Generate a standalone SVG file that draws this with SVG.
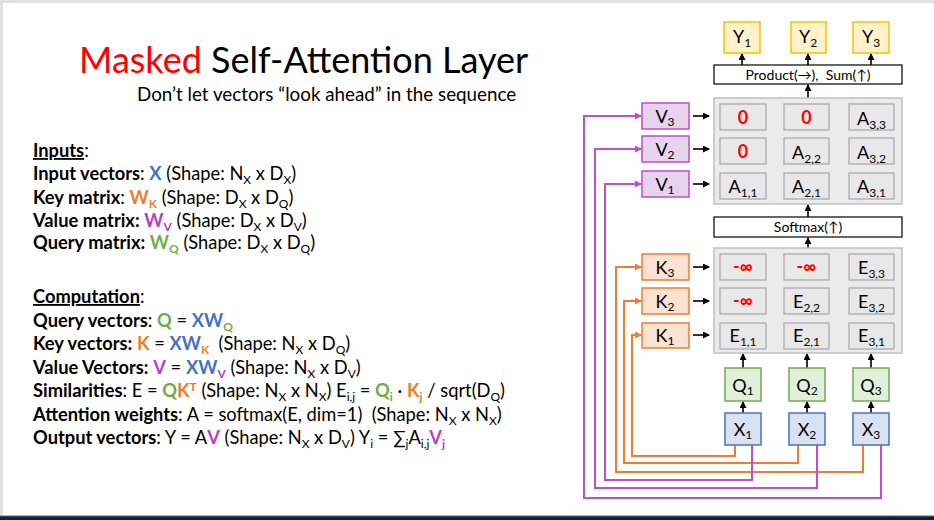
<svg xmlns="http://www.w3.org/2000/svg" width="934" height="520" viewBox="0 0 934 520">
<style>
.f{font-family:Lato,"Open Sans","DejaVu Sans",sans-serif}
.t{font-family:Lato,"Open Sans","DejaVu Sans",sans-serif;font-size:18.3px;fill:#000}
.b{font-weight:bold}
.s{font-size:12px}
.lbl{font-family:Lato,"Open Sans","DejaVu Sans",sans-serif;font-size:18px;fill:#000;text-anchor:middle}
.sub{font-size:12px}
.cell{fill:#e8e8e8;stroke:#a6a6a6;stroke-width:1.2}
.mat{fill:#ebebeb;stroke:#c0c0c0;stroke-width:1.5}
.yb{fill:#fff2cc;stroke:#ffc000;stroke-width:1.5}
.vb{fill:#e6d3ee;stroke:#c04ec8;stroke-width:1.5}
.kb{fill:#fbe2d2;stroke:#ed7d31;stroke-width:1.5}
.qb{fill:#e2efd9;stroke:#70ad47;stroke-width:1.5}
.xb{fill:#d9e1f3;stroke:#4472c4;stroke-width:1.5}
.wb{fill:#fff;stroke:#000;stroke-width:1.2}
.ar{stroke:#000;stroke-width:1.6;fill:none;marker-end:url(#ah)}
.oc{stroke:#ed7d31;stroke-width:2;fill:none;marker-end:url(#ao)}
.pc{stroke:#c04ec8;stroke-width:2;fill:none;marker-end:url(#ap)}
.blue{fill:#4472c4}
.org{fill:#ed7d31}
.pur{fill:#b541c9}
.grn{fill:#70ad47}
.red{fill:#ff0000}
</style>
<defs>
<marker id="ah" markerUnits="userSpaceOnUse" markerWidth="7" markerHeight="7" refX="6" refY="3.5" orient="auto"><path d="M0,0 L7,3.5 L0,7 z" fill="#000"/></marker>
<marker id="ao" markerUnits="userSpaceOnUse" markerWidth="7" markerHeight="7" refX="6" refY="3.5" orient="auto"><path d="M0,0 L7,3.5 L0,7 z" fill="#ed7d31"/></marker>
<marker id="ap" markerUnits="userSpaceOnUse" markerWidth="7" markerHeight="7" refX="6" refY="3.5" orient="auto"><path d="M0,0 L7,3.5 L0,7 z" fill="#c04ec8"/></marker>
</defs>
<rect x="0" y="0" width="934" height="520" fill="#fff"/>
<rect x="0" y="0" width="934" height="3" fill="#e2e2e6"/>
<rect x="0" y="0" width="3" height="520" fill="#e2e2e6"/>
<rect x="0" y="516" width="934" height="4" fill="#0b2340"/>
<rect x="0" y="515.5" width="934" height="1" fill="#4d6c92"/>

<g id="title">
<text class="f" x="79" y="73" font-size="36"><tspan class="red">Masked</tspan> Self-Attention Layer</text>
<text class="f" x="137" y="101" font-size="18.8">Don’t let vectors “look ahead” in the sequence</text>
</g>

<g id="inputs-text">
<text class="t" x="33" y="157"><tspan class="b" text-decoration="underline">Inputs</tspan>:</text>
<text class="t" x="33" y="180"><tspan class="b">Input vectors</tspan>: <tspan class="b blue">X</tspan> (Shape: N<tspan class="s" dy="4">X</tspan><tspan dy="-4"> x D</tspan><tspan class="s" dy="4">X</tspan><tspan dy="-4">)</tspan></text>
<text class="t" x="33" y="204"><tspan class="b">Key matrix</tspan>: <tspan class="b org">W</tspan><tspan class="b org s" dy="4">K</tspan><tspan dy="-4"> (Shape: D</tspan><tspan class="s" dy="4">X</tspan><tspan dy="-4"> x D</tspan><tspan class="s" dy="4">Q</tspan><tspan dy="-4">)</tspan></text>
<text class="t" x="33" y="227"><tspan class="b">Value matrix:</tspan> <tspan class="b pur">W</tspan><tspan class="b pur s" dy="4">V</tspan><tspan dy="-4"> (Shape: D</tspan><tspan class="s" dy="4">X</tspan><tspan dy="-4"> x D</tspan><tspan class="s" dy="4">V</tspan><tspan dy="-4">)</tspan></text>
<text class="t" x="33" y="249"><tspan class="b">Query matrix:</tspan> <tspan class="b grn">W</tspan><tspan class="b grn s" dy="4">Q</tspan><tspan dy="-4"> (Shape: D</tspan><tspan class="s" dy="4">X</tspan><tspan dy="-4"> x D</tspan><tspan class="s" dy="4">Q</tspan><tspan dy="-4">)</tspan></text>
</g>

<g id="computation-text">
<text class="t" x="33" y="303"><tspan class="b" text-decoration="underline">Computation</tspan>:</text>
<text class="t" x="33" y="327"><tspan class="b">Query vectors</tspan>: <tspan class="b grn">Q</tspan> = <tspan class="b blue">XW</tspan><tspan class="b grn s" dy="4">Q</tspan></text>
<text class="t" x="33" y="350"><tspan class="b">Key vectors:</tspan> <tspan class="b org">K</tspan> = <tspan class="b blue">XW</tspan><tspan class="b org s" dy="4">K</tspan><tspan dy="-4" xml:space="preserve">  (Shape: N</tspan><tspan class="s" dy="4">X</tspan><tspan dy="-4"> x D</tspan><tspan class="s" dy="4">Q</tspan><tspan dy="-4">)</tspan></text>
<text class="t" x="33" y="374"><tspan class="b">Value Vectors:</tspan> <tspan class="b pur">V</tspan> = <tspan class="b blue">XW</tspan><tspan class="b pur s" dy="4">V</tspan><tspan dy="-4"> (Shape: N</tspan><tspan class="s" dy="4">X</tspan><tspan dy="-4"> x D</tspan><tspan class="s" dy="4">V</tspan><tspan dy="-4">)</tspan></text>
<text class="t" x="33" y="397"><tspan class="b">Similarities</tspan>: E = <tspan class="b grn">Q</tspan><tspan class="b org">K</tspan><tspan class="b org s" dy="-6">T</tspan><tspan dy="6"> (Shape: N</tspan><tspan class="s" dy="4">X</tspan><tspan dy="-4"> x N</tspan><tspan class="s" dy="4">X</tspan><tspan dy="-4">) E</tspan><tspan class="s" dy="4">i,j</tspan><tspan dy="-4"> = </tspan><tspan class="b grn">Q</tspan><tspan class="b grn s" dy="4">i</tspan><tspan dy="-4"> · </tspan><tspan class="b org">K</tspan><tspan class="b org s" dy="4">j</tspan><tspan dy="-4"> / sqrt(D</tspan><tspan class="s" dy="4">Q</tspan><tspan dy="-4">)</tspan></text>
<text class="t" x="33" y="421"><tspan class="b">Attention weights</tspan>: A = softmax(E, dim=1)<tspan xml:space="preserve">  (Shape: N</tspan><tspan class="s" dy="4">X</tspan><tspan dy="-4"> x N</tspan><tspan class="s" dy="4">X</tspan><tspan dy="-4">)</tspan></text>
<text class="t" x="33" y="444"><tspan class="b">Output vectors</tspan>: Y = A<tspan class="b pur">V</tspan> (Shape: N<tspan class="s" dy="4">X</tspan><tspan dy="-4"> x D</tspan><tspan class="s" dy="4">V</tspan><tspan dy="-4">) Y</tspan><tspan class="s" dy="4">i</tspan><tspan dy="-4"> = ∑</tspan><tspan class="s" dy="4">j</tspan><tspan dy="-4">A</tspan><tspan class="s" dy="4">i,j</tspan><tspan class="b pur" dy="-4">V</tspan><tspan class="b pur s" dy="4">j</tspan></text>
</g>

<g id="connectors">
<path class="oc" d="M735,445 V456 H632 V335 H641"/>
<path class="oc" d="M798,445 V463 H624 V301 H641"/>
<path class="oc" d="M863,445 V472 H616 V267 H641"/>
<path class="pc" d="M752,445 V480 H605 V184 H641"/>
<path class="pc" d="M817,445 V488 H595 V149 H641"/>
<path class="pc" d="M881,445 V498 H584 V116 H641"/>
<line class="ar" x1="693" y1="116" x2="709" y2="116"/>
<line class="ar" x1="693" y1="149" x2="709" y2="149"/>
<line class="ar" x1="693" y1="184" x2="709" y2="184"/>
<line class="ar" x1="693" y1="267" x2="709" y2="267"/>
<line class="ar" x1="693" y1="301" x2="709" y2="301"/>
<line class="ar" x1="693" y1="335" x2="709" y2="335"/>
<line class="ar" x1="742" y1="65" x2="742" y2="54"/>
<line class="ar" x1="808" y1="65" x2="808" y2="54"/>
<line class="ar" x1="871" y1="65" x2="871" y2="54"/>
<line class="ar" x1="808" y1="98" x2="808" y2="85"/>
<line class="ar" x1="808" y1="217" x2="808" y2="205"/>
<line class="ar" x1="808" y1="248" x2="808" y2="238"/>
<line class="ar" x1="743" y1="368" x2="743" y2="354"/>
<line class="ar" x1="807" y1="368" x2="807" y2="354"/>
<line class="ar" x1="871" y1="368" x2="871" y2="354"/>
<line class="ar" x1="743" y1="413" x2="743" y2="402"/>
<line class="ar" x1="807" y1="413" x2="807" y2="402"/>
<line class="ar" x1="871" y1="413" x2="871" y2="402"/>
</g>

<g id="Y1"><rect class="yb" x="724" y="22" width="36" height="31"/><text class="lbl" x="742" y="43">Y<tspan class="sub" dy="4">1</tspan></text></g>
<g id="Y2"><rect class="yb" x="791" y="22" width="35" height="31"/><text class="lbl" x="808" y="43">Y<tspan class="sub" dy="4">2</tspan></text></g>
<g id="Y3"><rect class="yb" x="853" y="22" width="36" height="31"/><text class="lbl" x="871" y="43">Y<tspan class="sub" dy="4">3</tspan></text></g>

<g id="product"><rect class="wb" x="714" y="65" width="188" height="19"/><text class="f" x="808" y="79.5" font-size="14" text-anchor="middle" xml:space="preserve">Product(→),  Sum(↑)</text></g>

<g id="A-matrix">
<rect class="mat" x="714" y="98" width="188" height="106"/>
<rect class="cell" x="720" y="104" width="46" height="26"/><text class="lbl b red" x="743" y="124">0</text>
<rect class="cell" x="784" y="104" width="45" height="26"/><text class="lbl b red" x="806.5" y="124">0</text>
<rect class="cell" x="849" y="104" width="45" height="26"/><text class="lbl" x="871.5" y="125">A<tspan class="sub" dy="4">3,3</tspan></text>
<rect class="cell" x="720" y="138" width="46" height="26"/><text class="lbl b red" x="743" y="158">0</text>
<rect class="cell" x="784" y="138" width="45" height="26"/><text class="lbl" x="806.5" y="159">A<tspan class="sub" dy="4">2,2</tspan></text>
<rect class="cell" x="849" y="138" width="45" height="26"/><text class="lbl" x="871.5" y="159">A<tspan class="sub" dy="4">3,2</tspan></text>
<rect class="cell" x="720" y="173" width="46" height="26"/><text class="lbl" x="743" y="193">A<tspan class="sub" dy="4">1,1</tspan></text>
<rect class="cell" x="784" y="173" width="45" height="26"/><text class="lbl" x="806.5" y="193">A<tspan class="sub" dy="4">2,1</tspan></text>
<rect class="cell" x="849" y="173" width="45" height="26"/><text class="lbl" x="871.5" y="193">A<tspan class="sub" dy="4">3,1</tspan></text>
</g>

<g id="V3"><rect class="vb" x="642" y="103" width="47" height="26"/><text class="lbl" x="665" y="123">V<tspan class="sub" dy="3">3</tspan></text></g>
<g id="V2"><rect class="vb" x="642" y="136" width="47" height="26"/><text class="lbl" x="665" y="156">V<tspan class="sub" dy="3">2</tspan></text></g>
<g id="V1"><rect class="vb" x="642" y="171" width="47" height="26"/><text class="lbl" x="665" y="191">V<tspan class="sub" dy="3">1</tspan></text></g>

<g id="softmax"><rect class="wb" x="714" y="217" width="188" height="20"/><text class="f" x="808" y="232" font-size="14" text-anchor="middle">Softmax(↑)</text></g>

<g id="E-matrix">
<rect class="mat" x="714" y="248" width="188" height="105"/>
<rect class="cell" x="720" y="254" width="46" height="26"/><text class="lbl b red" x="743" y="273" font-size="15">-∞</text>
<rect class="cell" x="784" y="254" width="45" height="26"/><text class="lbl b red" x="806.5" y="273" font-size="15">-∞</text>
<rect class="cell" x="849" y="254" width="45" height="26"/><text class="lbl" x="871.5" y="274">E<tspan class="sub" dy="4">3,3</tspan></text>
<rect class="cell" x="720" y="288" width="46" height="26"/><text class="lbl b red" x="743" y="307" font-size="15">-∞</text>
<rect class="cell" x="784" y="288" width="45" height="26"/><text class="lbl" x="806.5" y="308">E<tspan class="sub" dy="4">2,2</tspan></text>
<rect class="cell" x="849" y="288" width="45" height="26"/><text class="lbl" x="871.5" y="308">E<tspan class="sub" dy="4">3,2</tspan></text>
<rect class="cell" x="720" y="323" width="46" height="26"/><text class="lbl" x="743" y="342">E<tspan class="sub" dy="4">1,1</tspan></text>
<rect class="cell" x="784" y="323" width="45" height="26"/><text class="lbl" x="806.5" y="342">E<tspan class="sub" dy="4">2,1</tspan></text>
<rect class="cell" x="849" y="323" width="45" height="26"/><text class="lbl" x="871.5" y="342">E<tspan class="sub" dy="4">3,1</tspan></text>
</g>

<g id="K3"><rect class="kb" x="642" y="254" width="47" height="26"/><text class="lbl" x="665" y="274">K<tspan class="sub" dy="3">3</tspan></text></g>
<g id="K2"><rect class="kb" x="642" y="288" width="47" height="26"/><text class="lbl" x="665" y="308">K<tspan class="sub" dy="3">2</tspan></text></g>
<g id="K1"><rect class="kb" x="642" y="323" width="47" height="25"/><text class="lbl" x="665" y="342">K<tspan class="sub" dy="3">1</tspan></text></g>

<g id="Q1"><rect class="qb" x="725" y="368" width="36" height="33"/><text class="lbl" x="743" y="392">Q<tspan class="sub" dy="3">1</tspan></text></g>
<g id="Q2"><rect class="qb" x="789" y="368" width="36" height="33"/><text class="lbl" x="807" y="392">Q<tspan class="sub" dy="3">2</tspan></text></g>
<g id="Q3"><rect class="qb" x="853" y="368" width="36" height="33"/><text class="lbl" x="871" y="392">Q<tspan class="sub" dy="3">3</tspan></text></g>

<g id="X1"><rect class="xb" x="725" y="413" width="36" height="32"/><text class="lbl" x="743" y="436">X<tspan class="sub" dy="3">1</tspan></text></g>
<g id="X2"><rect class="xb" x="789" y="413" width="36" height="32"/><text class="lbl" x="807" y="436">X<tspan class="sub" dy="3">2</tspan></text></g>
<g id="X3"><rect class="xb" x="853" y="413" width="36" height="32"/><text class="lbl" x="871" y="436">X<tspan class="sub" dy="3">3</tspan></text></g>
</svg>
